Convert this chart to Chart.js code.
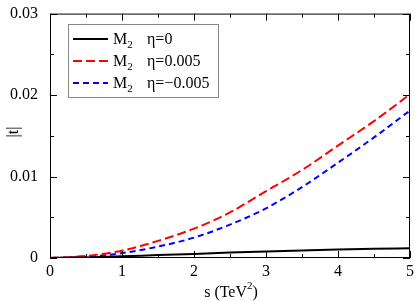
<!DOCTYPE html>
<html>
<head>
<meta charset="utf-8">
<script src="https://cdn.jsdelivr.net/npm/chart.js@4"></script>
<style>
  html, body { margin: 0; padding: 0; background: #fff; }
  #wrap { width: 415px; height: 301px; }
</style>
</head>
<body>
<div id="wrap"><canvas id="tChart"></canvas></div>
<script>
const sValues = [0, 0.5, 1, 1.5, 2, 2.5, 3, 3.5, 4, 4.5, 5];
const tEta0 = [0, 0.00007, 0.0002, 0.00036, 0.0005, 0.00066, 0.0008, 0.00093, 0.00105, 0.00113, 0.00119];
const tEtaPos = [0, 0.00025, 0.0009, 0.0021, 0.0036, 0.0056, 0.0082, 0.0108, 0.0138, 0.0168, 0.0201];
const tEtaNeg = [0, 0.00015, 0.0006, 0.0014, 0.0025, 0.0041, 0.0061, 0.0087, 0.0117, 0.0148, 0.0181];
const etaLabels = ['η=0', 'η=0.005', 'η=\u22120.005'];
const xTicks = [0, 1, 2, 3, 4, 5];
const yTicks = [0, 0.01, 0.02, 0.03];

const serif = '"Liberation Serif", "Times New Roman", serif';

const toPoints = arr => arr.map((v, i) => ({ x: sValues[i], y: v }));

const datasets = [
    { label: etaLabels[0], data: toPoints(tEta0), borderColor: '#000000', borderWidth: 2, borderDash: [] },
    { label: etaLabels[1], data: toPoints(tEtaPos), borderColor: '#ff0000', borderWidth: 2, borderDash: [9, 4] },
    { label: etaLabels[2], data: toPoints(tEtaNeg), borderColor: '#0000ff', borderWidth: 2, borderDash: [6, 4] }
];
datasets.forEach(d => {
    d.pointRadius = 0;
    d.fill = false;
    d.cubicInterpolationMode = 'monotone';
});

// frame, inward ticks, legend and axis titles
const framePlugin = {
    id: 'frame',
    afterDraw(chart) {
        const { ctx, chartArea: { left, right, top, bottom }, scales: { x, y } } = chart;
        ctx.save();
        ctx.strokeStyle = '#000';
        ctx.lineWidth = 1;
        ctx.setLineDash([]);
        ctx.strokeRect(left + 0.5, top + 0.5, right - left - 1, bottom - top - 1);

        ctx.beginPath();
        for (let i = 0; i <= 10; i++) {
            const px = Math.round(x.getPixelForValue(i * 0.5)) + 0.5;
            const len = i % 2 === 0 ? 7 : 4;
            ctx.moveTo(px, bottom); ctx.lineTo(px, bottom - len);
            ctx.moveTo(px, top); ctx.lineTo(px, top + len);
        }
        for (let i = 0; i <= 6; i++) {
            const py = Math.round(y.getPixelForValue(i * 0.005)) + 0.5;
            const len = i % 2 === 0 ? 7 : 4;
            ctx.moveTo(left, py); ctx.lineTo(left + len, py);
            ctx.moveTo(right, py); ctx.lineTo(right - len, py);
        }
        ctx.stroke();

        // legend
        const bx = 68, by = 24, bw = 150, bh = 73;
        ctx.fillStyle = '#fff';
        ctx.fillRect(bx, by, bw, bh);
        ctx.strokeStyle = '#888';
        ctx.strokeRect(bx + 0.5, by + 0.5, bw, bh);
        chart.data.datasets.forEach((ds, i) => {
            const ry = 39 + i * 22;
            ctx.strokeStyle = ds.borderColor;
            ctx.lineWidth = 2;
            ctx.setLineDash(ds.borderDash);
            ctx.beginPath();
            ctx.moveTo(73, ry);
            ctx.lineTo(108, ry);
            ctx.stroke();
            ctx.setLineDash([]);
            ctx.fillStyle = '#000';
            ctx.textBaseline = 'alphabetic';
            ctx.textAlign = 'left';
            ctx.font = '16px ' + serif;
            ctx.fillText('M', 113, ry + 5);
            const mw = ctx.measureText('M').width;
            ctx.font = '11px ' + serif;
            ctx.fillText('2', 113 + mw, ry + 9);
            ctx.font = '16px ' + serif;
            ctx.fillText(ds.label, 147, ry + 5);
        });

        // axis titles
        ctx.fillStyle = '#000';
        ctx.font = '16px ' + serif;
        ctx.textAlign = 'left';
        const parts = ['s (TeV', '2', ')'];
        const w0 = ctx.measureText(parts[0]).width;
        ctx.font = '11px ' + serif;
        const w1 = ctx.measureText(parts[1]).width;
        ctx.font = '16px ' + serif;
        const w2 = ctx.measureText(parts[2]).width;
        let tx = 231 - (w0 + w1 + w2) / 2;
        ctx.fillText(parts[0], tx, 297);
        ctx.font = '11px ' + serif;
        ctx.fillText(parts[1], tx + w0, 289);
        ctx.font = '16px ' + serif;
        ctx.fillText(parts[2], tx + w0 + w1, 297);

        ctx.translate(14, 132);
        ctx.rotate(-Math.PI / 2);
        ctx.textAlign = 'center';
        ctx.textBaseline = 'middle';
        ctx.fillText('|t|', 0, 0);
        ctx.restore();
    }
};

new Chart(document.getElementById('tChart'), {
    type: 'line',
    data: { datasets: datasets },
    options: {
        responsive: true,
        maintainAspectRatio: false,
        animation: false,
        layout: { padding: { top: 6, right: 5, left: 0, bottom: 0 } },
        plugins: { legend: { display: false }, tooltip: { enabled: false } },
        scales: {
            x: {
                type: 'linear',
                min: 0,
                max: 5,
                afterFit: s => { s.height = 43; },
                afterBuildTicks: s => { s.ticks = xTicks.map(v => ({ value: v })); },
                grid: { display: false },
                border: { display: false },
                ticks: { color: '#000', padding: -4, maxRotation: 0, font: { family: serif, size: 16 } }
            },
            y: {
                min: 0,
                max: 0.03,
                afterFit: s => { s.width = 50; },
                afterBuildTicks: s => { s.ticks = yTicks.map(v => ({ value: v })); },
                grid: { display: false },
                border: { display: false },
                ticks: {
                    color: '#000',
                    padding: 4,
                    font: { family: serif, size: 16 },
                    callback: v => v === 0 ? '0' : v.toFixed(2)
                }
            }
        }
    },
    plugins: [framePlugin]
});
</script>
</body>
</html>
